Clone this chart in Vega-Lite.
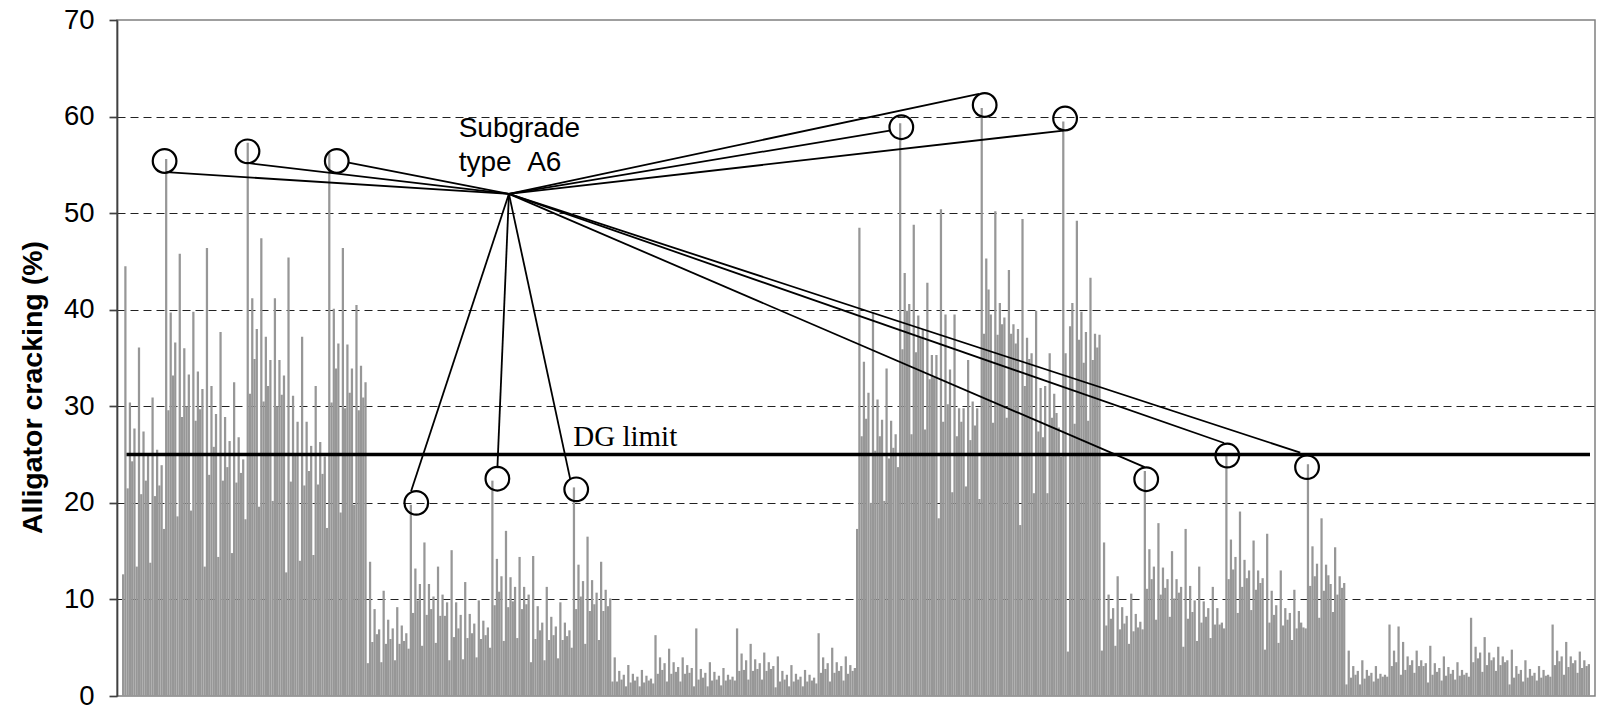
{
"$schema": "https://vega.github.io/schema/vega-lite/v6.json",
"width": 1478, "height": 676,
"autosize": {"type": "none"},
"padding": {"left": 117, "top": 20, "right": 5, "bottom": 11},
"background": "white",
"config": {"view": {"stroke": "#808080", "strokeWidth": 1.5}, "font": "Liberation Sans"},
"datasets": {
"bars": [
{"i":1,"v":12.6},{"i":2,"v":44.5},{"i":3,"v":21.5},{"i":4,"v":30.4},{"i":5,"v":24.3},{"i":6,"v":27.7},
{"i":7,"v":13.4},{"i":8,"v":36.1},{"i":9,"v":20.9},{"i":10,"v":27.4},{"i":11,"v":22.3},{"i":12,"v":25.0},
{"i":13,"v":13.8},{"i":14,"v":30.9},{"i":15,"v":20.7},{"i":16,"v":25.5},{"i":17,"v":21.8},{"i":18,"v":23.9},
{"i":19,"v":17.3},{"i":20,"v":55.6},{"i":21,"v":29.6},{"i":22,"v":39.7},{"i":23,"v":33.2},{"i":24,"v":36.6},
{"i":25,"v":18.6},{"i":26,"v":45.8},{"i":27,"v":28.9},{"i":28,"v":36.0},{"i":29,"v":30.0},{"i":30,"v":33.3},
{"i":31,"v":19.2},{"i":32,"v":39.8},{"i":33,"v":28.5},{"i":34,"v":33.6},{"i":35,"v":29.7},{"i":36,"v":31.8},
{"i":37,"v":13.4},{"i":38,"v":46.4},{"i":39,"v":22.9},{"i":40,"v":32.1},{"i":41,"v":25.8},{"i":42,"v":29.2},
{"i":43,"v":14.4},{"i":44,"v":37.7},{"i":45,"v":22.3},{"i":46,"v":28.9},{"i":47,"v":23.7},{"i":48,"v":26.4},
{"i":49,"v":14.8},{"i":50,"v":32.5},{"i":51,"v":22.1},{"i":52,"v":26.8},{"i":53,"v":23.1},{"i":54,"v":24.5},
{"i":55,"v":18.3},{"i":56,"v":57.3},{"i":57,"v":31.3},{"i":58,"v":41.2},{"i":59,"v":34.9},{"i":60,"v":38.0},
{"i":61,"v":19.6},{"i":62,"v":47.4},{"i":63,"v":30.5},{"i":64,"v":37.2},{"i":65,"v":32.1},{"i":66,"v":34.8},
{"i":67,"v":20.2},{"i":68,"v":41.2},{"i":69,"v":30.0},{"i":70,"v":34.8},{"i":71,"v":31.2},{"i":72,"v":33.2},
{"i":73,"v":12.8},{"i":74,"v":45.4},{"i":75,"v":22.2},{"i":76,"v":31.1},{"i":77,"v":25.0},{"i":78,"v":28.4},
{"i":79,"v":14.0},{"i":80,"v":37.2},{"i":81,"v":21.8},{"i":82,"v":28.4},{"i":83,"v":23.3},{"i":84,"v":25.9},
{"i":85,"v":14.6},{"i":86,"v":32.1},{"i":87,"v":21.9},{"i":88,"v":26.3},{"i":89,"v":23.0},{"i":90,"v":24.8},
{"i":91,"v":17.4},{"i":92,"v":56.2},{"i":93,"v":30.4},{"i":94,"v":40.1},{"i":95,"v":33.9},{"i":96,"v":36.5},
{"i":97,"v":19.0},{"i":98,"v":46.4},{"i":99,"v":29.8},{"i":100,"v":36.4},{"i":101,"v":31.4},{"i":102,"v":33.9},
{"i":103,"v":19.8},{"i":104,"v":40.5},{"i":105,"v":29.6},{"i":106,"v":34.2},{"i":107,"v":30.9},{"i":108,"v":32.5},
{"i":109,"v":3.4},{"i":110,"v":13.9},{"i":111,"v":5.6},{"i":112,"v":9.0},{"i":113,"v":6.4},{"i":114,"v":6.9},
{"i":115,"v":3.5},{"i":116,"v":10.9},{"i":117,"v":5.4},{"i":118,"v":7.9},{"i":119,"v":5.9},{"i":120,"v":7.0},
{"i":121,"v":3.7},{"i":122,"v":9.2},{"i":123,"v":5.4},{"i":124,"v":7.3},{"i":125,"v":5.7},{"i":126,"v":6.5},
{"i":127,"v":4.9},{"i":128,"v":19.8},{"i":129,"v":8.6},{"i":130,"v":13.2},{"i":131,"v":9.9},{"i":132,"v":11.6},
{"i":133,"v":5.2},{"i":134,"v":15.9},{"i":135,"v":8.4},{"i":136,"v":11.6},{"i":137,"v":9.0},{"i":138,"v":10.3},
{"i":139,"v":5.5},{"i":140,"v":13.4},{"i":141,"v":8.3},{"i":142,"v":10.5},{"i":143,"v":8.3},{"i":144,"v":9.7},
{"i":145,"v":3.7},{"i":146,"v":15.1},{"i":147,"v":6.1},{"i":148,"v":9.7},{"i":149,"v":7.0},{"i":150,"v":8.4},
{"i":151,"v":3.8},{"i":152,"v":11.8},{"i":153,"v":6.0},{"i":154,"v":8.5},{"i":155,"v":6.5},{"i":156,"v":7.5},
{"i":157,"v":4.0},{"i":158,"v":9.9},{"i":159,"v":5.9},{"i":160,"v":7.8},{"i":161,"v":6.3},{"i":162,"v":7.1},
{"i":163,"v":5.0},{"i":164,"v":22.3},{"i":165,"v":9.4},{"i":166,"v":14.2},{"i":167,"v":10.8},{"i":168,"v":12.4},
{"i":169,"v":5.7},{"i":170,"v":17.1},{"i":171,"v":9.2},{"i":172,"v":12.3},{"i":173,"v":9.8},{"i":174,"v":11.3},
{"i":175,"v":6.0},{"i":176,"v":14.4},{"i":177,"v":9.0},{"i":178,"v":11.3},{"i":179,"v":9.5},{"i":180,"v":10.5},
{"i":181,"v":3.5},{"i":182,"v":14.5},{"i":183,"v":5.9},{"i":184,"v":9.3},{"i":185,"v":6.8},{"i":186,"v":7.6},
{"i":187,"v":3.7},{"i":188,"v":11.3},{"i":189,"v":5.8},{"i":190,"v":8.2},{"i":191,"v":6.3},{"i":192,"v":7.2},
{"i":193,"v":3.9},{"i":194,"v":9.7},{"i":195,"v":5.8},{"i":196,"v":7.6},{"i":197,"v":6.2},{"i":198,"v":6.8},
{"i":199,"v":5.0},{"i":200,"v":21.6},{"i":201,"v":9.0},{"i":202,"v":13.6},{"i":203,"v":10.3},{"i":204,"v":11.9},
{"i":205,"v":5.4},{"i":206,"v":16.5},{"i":207,"v":8.8},{"i":208,"v":12.0},{"i":209,"v":9.5},{"i":210,"v":10.7},
{"i":211,"v":5.8},{"i":212,"v":13.9},{"i":213,"v":8.8},{"i":214,"v":11.0},{"i":215,"v":9.3},{"i":216,"v":10.1},
{"i":217,"v":1.5},{"i":218,"v":4.0},{"i":219,"v":1.5},{"i":220,"v":2.6},{"i":221,"v":1.7},{"i":222,"v":2.2},
{"i":223,"v":1.0},{"i":224,"v":3.2},{"i":225,"v":1.4},{"i":226,"v":2.3},{"i":227,"v":1.6},{"i":228,"v":2.0},
{"i":229,"v":1.0},{"i":230,"v":2.7},{"i":231,"v":1.4},{"i":232,"v":2.1},{"i":233,"v":1.6},{"i":234,"v":1.8},
{"i":235,"v":1.3},{"i":236,"v":6.3},{"i":237,"v":2.3},{"i":238,"v":4.0},{"i":239,"v":2.7},{"i":240,"v":3.4},
{"i":241,"v":1.5},{"i":242,"v":4.9},{"i":243,"v":2.3},{"i":244,"v":3.5},{"i":245,"v":2.5},{"i":246,"v":3.0},
{"i":247,"v":1.5},{"i":248,"v":4.0},{"i":249,"v":2.3},{"i":250,"v":3.2},{"i":251,"v":2.4},{"i":252,"v":2.9},
{"i":253,"v":1.0},{"i":254,"v":7.0},{"i":255,"v":1.7},{"i":256,"v":2.8},{"i":257,"v":1.9},{"i":258,"v":2.4},
{"i":259,"v":1.0},{"i":260,"v":3.5},{"i":261,"v":1.6},{"i":262,"v":2.5},{"i":263,"v":1.7},{"i":264,"v":2.1},
{"i":265,"v":1.1},{"i":266,"v":2.9},{"i":267,"v":1.6},{"i":268,"v":2.2},{"i":269,"v":1.7},{"i":270,"v":2.0},
{"i":271,"v":1.6},{"i":272,"v":7.0},{"i":273,"v":2.6},{"i":274,"v":4.4},{"i":275,"v":2.7},{"i":276,"v":3.7},
{"i":277,"v":1.7},{"i":278,"v":5.4},{"i":279,"v":2.6},{"i":280,"v":3.8},{"i":281,"v":2.8},{"i":282,"v":3.4},
{"i":283,"v":1.7},{"i":284,"v":4.5},{"i":285,"v":2.6},{"i":286,"v":3.5},{"i":287,"v":2.8},{"i":288,"v":3.1},
{"i":289,"v":0.9},{"i":290,"v":4.1},{"i":291,"v":1.5},{"i":292,"v":2.6},{"i":293,"v":1.7},{"i":294,"v":2.2},
{"i":295,"v":1.0},{"i":296,"v":3.2},{"i":297,"v":1.5},{"i":298,"v":2.3},{"i":299,"v":1.7},{"i":300,"v":2.0},
{"i":301,"v":1.0},{"i":302,"v":2.7},{"i":303,"v":1.5},{"i":304,"v":2.2},{"i":305,"v":1.6},{"i":306,"v":1.9},
{"i":307,"v":1.3},{"i":308,"v":6.5},{"i":309,"v":2.4},{"i":310,"v":4.0},{"i":311,"v":2.8},{"i":312,"v":3.4},
{"i":313,"v":1.5},{"i":314,"v":5.0},{"i":315,"v":2.4},{"i":316,"v":3.5},{"i":317,"v":2.6},{"i":318,"v":3.1},
{"i":319,"v":1.6},{"i":320,"v":4.1},{"i":321,"v":2.3},{"i":322,"v":3.2},{"i":323,"v":2.6},{"i":324,"v":2.9},
{"i":325,"v":17.3},{"i":326,"v":48.5},{"i":327,"v":26.9},{"i":328,"v":34.6},{"i":329,"v":28.7},{"i":330,"v":31.4},
{"i":331,"v":20.0},{"i":332,"v":39.7},{"i":333,"v":25.4},{"i":334,"v":30.7},{"i":335,"v":26.9},{"i":336,"v":28.6},
{"i":337,"v":20.2},{"i":338,"v":33.9},{"i":339,"v":24.6},{"i":340,"v":28.5},{"i":341,"v":25.7},{"i":342,"v":27.1},
{"i":343,"v":23.7},{"i":344,"v":59.3},{"i":345,"v":35.9},{"i":346,"v":43.8},{"i":347,"v":39.9},{"i":348,"v":40.6},
{"i":349,"v":27.1},{"i":350,"v":48.8},{"i":351,"v":35.6},{"i":352,"v":39.4},{"i":353,"v":37.1},{"i":354,"v":38.0},
{"i":355,"v":27.6},{"i":356,"v":42.8},{"i":357,"v":32.8},{"i":358,"v":35.3},{"i":359,"v":33.0},{"i":360,"v":35.3},
{"i":361,"v":18.4},{"i":362,"v":50.4},{"i":363,"v":28.4},{"i":364,"v":39.5},{"i":365,"v":30.2},{"i":366,"v":33.8},
{"i":367,"v":21.1},{"i":368,"v":39.5},{"i":369,"v":26.9},{"i":370,"v":29.8},{"i":371,"v":28.4},{"i":372,"v":29.8},
{"i":373,"v":21.7},{"i":374,"v":34.8},{"i":375,"v":26.5},{"i":376,"v":30.5},{"i":377,"v":28.0},{"i":378,"v":29.8},
{"i":379,"v":20.4},{"i":380,"v":60.9},{"i":381,"v":37.5},{"i":382,"v":45.3},{"i":383,"v":42.1},{"i":384,"v":39.5},
{"i":385,"v":28.3},{"i":386,"v":50.2},{"i":387,"v":37.4},{"i":388,"v":40.7},{"i":389,"v":38.5},{"i":390,"v":39.2},
{"i":391,"v":28.8},{"i":392,"v":44.1},{"i":393,"v":37.5},{"i":394,"v":38.5},{"i":395,"v":36.5},{"i":396,"v":38.0},
{"i":397,"v":17.7},{"i":398,"v":49.4},{"i":399,"v":32.1},{"i":400,"v":37.1},{"i":401,"v":34.9},{"i":402,"v":35.5},
{"i":403,"v":21.0},{"i":404,"v":39.9},{"i":405,"v":27.4},{"i":406,"v":31.9},{"i":407,"v":26.8},{"i":408,"v":32.1},
{"i":409,"v":21.0},{"i":410,"v":35.5},{"i":411,"v":28.8},{"i":412,"v":31.3},{"i":413,"v":29.3},{"i":414,"v":27.8},
{"i":415,"v":24.8},{"i":416,"v":59.5},{"i":417,"v":35.5},{"i":418,"v":4.6},{"i":419,"v":38.3},{"i":420,"v":40.7},
{"i":421,"v":28.2},{"i":422,"v":49.2},{"i":423,"v":36.9},{"i":424,"v":39.8},{"i":425,"v":34.5},{"i":426,"v":37.7},
{"i":427,"v":28.5},{"i":428,"v":43.3},{"i":429,"v":34.8},{"i":430,"v":37.5},{"i":431,"v":36.1},{"i":432,"v":37.4},
{"i":433,"v":4.7},{"i":434,"v":15.9},{"i":435,"v":7.3},{"i":436,"v":10.5},{"i":437,"v":8.0},{"i":438,"v":9.1},
{"i":439,"v":5.2},{"i":440,"v":12.4},{"i":441,"v":6.9},{"i":442,"v":9.2},{"i":443,"v":7.5},{"i":444,"v":8.3},
{"i":445,"v":5.4},{"i":446,"v":10.6},{"i":447,"v":6.7},{"i":448,"v":8.5},{"i":449,"v":7.1},{"i":450,"v":7.7},
{"i":451,"v":6.9},{"i":452,"v":23.3},{"i":453,"v":11.1},{"i":454,"v":15.2},{"i":455,"v":12.1},{"i":456,"v":13.4},
{"i":457,"v":7.9},{"i":458,"v":17.9},{"i":459,"v":10.5},{"i":460,"v":13.3},{"i":461,"v":11.2},{"i":462,"v":12.1},
{"i":463,"v":8.2},{"i":464,"v":15.0},{"i":465,"v":10.1},{"i":466,"v":12.1},{"i":467,"v":10.7},{"i":468,"v":11.3},
{"i":469,"v":5.1},{"i":470,"v":17.3},{"i":471,"v":8.0},{"i":472,"v":11.4},{"i":473,"v":8.7},{"i":474,"v":9.9},
{"i":475,"v":5.7},{"i":476,"v":13.4},{"i":477,"v":7.6},{"i":478,"v":9.8},{"i":479,"v":8.2},{"i":480,"v":9.1},
{"i":481,"v":6.0},{"i":482,"v":11.3},{"i":483,"v":7.4},{"i":484,"v":9.1},{"i":485,"v":7.4},{"i":486,"v":7.6},
{"i":487,"v":7.0},{"i":488,"v":24.9},{"i":489,"v":12.1},{"i":490,"v":16.2},{"i":491,"v":13.1},{"i":492,"v":14.4},
{"i":493,"v":8.6},{"i":494,"v":19.1},{"i":495,"v":11.3},{"i":496,"v":14.1},{"i":497,"v":12.2},{"i":498,"v":13.0},
{"i":499,"v":8.9},{"i":500,"v":16.1},{"i":501,"v":11.0},{"i":502,"v":13.0},{"i":503,"v":11.7},{"i":504,"v":12.2},
{"i":505,"v":4.8},{"i":506,"v":16.8},{"i":507,"v":7.6},{"i":508,"v":10.9},{"i":509,"v":8.4},{"i":510,"v":9.4},
{"i":511,"v":5.5},{"i":512,"v":13.0},{"i":513,"v":7.3},{"i":514,"v":9.1},{"i":515,"v":7.9},{"i":516,"v":8.6},
{"i":517,"v":5.8},{"i":518,"v":11.0},{"i":519,"v":7.0},{"i":520,"v":8.8},{"i":521,"v":7.6},{"i":522,"v":7.1},
{"i":523,"v":7.0},{"i":524,"v":24.0},{"i":525,"v":11.4},{"i":526,"v":15.5},{"i":527,"v":12.4},{"i":528,"v":13.7},
{"i":529,"v":8.1},{"i":530,"v":18.4},{"i":531,"v":10.9},{"i":532,"v":13.6},{"i":533,"v":12.5},{"i":534,"v":11.6},
{"i":535,"v":8.7},{"i":536,"v":15.4},{"i":537,"v":10.5},{"i":538,"v":12.4},{"i":539,"v":11.2},{"i":540,"v":11.7},
{"i":541,"v":1.2},{"i":542,"v":4.7},{"i":543,"v":1.9},{"i":544,"v":3.1},{"i":545,"v":2.2},{"i":546,"v":2.6},
{"i":547,"v":1.2},{"i":548,"v":3.7},{"i":549,"v":1.8},{"i":550,"v":2.7},{"i":551,"v":2.1},{"i":552,"v":2.4},
{"i":553,"v":1.5},{"i":554,"v":3.1},{"i":555,"v":1.8},{"i":556,"v":2.3},{"i":557,"v":2.0},{"i":558,"v":2.2},
{"i":559,"v":2.0},{"i":560,"v":7.4},{"i":561,"v":3.1},{"i":562,"v":4.7},{"i":563,"v":3.5},{"i":564,"v":7.2},
{"i":565,"v":2.2},{"i":566,"v":5.6},{"i":567,"v":2.7},{"i":568,"v":4.1},{"i":569,"v":3.2},{"i":570,"v":3.7},
{"i":571,"v":2.4},{"i":572,"v":4.7},{"i":573,"v":3.1},{"i":574,"v":3.7},{"i":575,"v":3.1},{"i":576,"v":3.4},
{"i":577,"v":1.4},{"i":578,"v":5.2},{"i":579,"v":2.2},{"i":580,"v":3.4},{"i":581,"v":2.5},{"i":582,"v":2.9},
{"i":583,"v":1.6},{"i":584,"v":4.1},{"i":585,"v":2.1},{"i":586,"v":3.0},{"i":587,"v":2.3},{"i":588,"v":2.7},
{"i":589,"v":1.7},{"i":590,"v":3.5},{"i":591,"v":2.1},{"i":592,"v":2.7},{"i":593,"v":2.2},{"i":594,"v":2.4},
{"i":595,"v":2.0},{"i":596,"v":8.1},{"i":597,"v":3.5},{"i":598,"v":5.1},{"i":599,"v":3.9},{"i":600,"v":4.5},
{"i":601,"v":2.5},{"i":602,"v":6.1},{"i":603,"v":3.2},{"i":604,"v":4.5},{"i":605,"v":3.7},{"i":606,"v":4.0},
{"i":607,"v":2.6},{"i":608,"v":5.1},{"i":609,"v":3.2},{"i":610,"v":4.1},{"i":611,"v":3.5},{"i":612,"v":3.7},
{"i":613,"v":1.2},{"i":614,"v":4.8},{"i":615,"v":1.9},{"i":616,"v":3.1},{"i":617,"v":2.3},{"i":618,"v":2.7},
{"i":619,"v":1.5},{"i":620,"v":3.7},{"i":621,"v":1.9},{"i":622,"v":2.8},{"i":623,"v":2.1},{"i":624,"v":2.4},
{"i":625,"v":1.6},{"i":626,"v":3.1},{"i":627,"v":1.9},{"i":628,"v":2.7},{"i":629,"v":2.1},{"i":630,"v":2.2},
{"i":631,"v":2.0},{"i":632,"v":7.4},{"i":633,"v":3.2},{"i":634,"v":4.7},{"i":635,"v":3.6},{"i":636,"v":4.1},
{"i":637,"v":2.2},{"i":638,"v":5.6},{"i":639,"v":3.0},{"i":640,"v":4.1},{"i":641,"v":3.4},{"i":642,"v":3.7},
{"i":643,"v":2.4},{"i":644,"v":4.6},{"i":645,"v":2.9},{"i":646,"v":3.7},{"i":647,"v":3.1},{"i":648,"v":3.3}
],
"circles": [
{"i":19.3,"v":55.4},{"i":55.9,"v":56.4},{"i":95.3,"v":55.4},
{"i":130.4,"v":20.0},{"i":166.2,"v":22.5},{"i":201.0,"v":21.4},
{"i":344.5,"v":58.9},{"i":381.3,"v":61.2},{"i":416.8,"v":59.8},
{"i":452.6,"v":22.45},{"i":488.4,"v":24.9},{"i":523.6,"v":23.7}
],
"leaders": [
{"i":171.3,"v":52.0,"i2":20.1,"v2":54.24},
{"i":171.3,"v":52.0,"i2":56.6,"v2":55.17},
{"i":171.3,"v":52.0,"i2":100.5,"v2":55.24},
{"i":171.3,"v":52.0,"i2":128.1,"v2":21.2},
{"i":171.3,"v":52.0,"i2":166.2,"v2":23.6},
{"i":171.3,"v":52.0,"i2":198.4,"v2":22.4},
{"i":171.3,"v":52.0,"i2":339.4,"v2":58.55},
{"i":171.3,"v":52.0,"i2":378.8,"v2":62.35},
{"i":171.3,"v":52.0,"i2":416.1,"v2":58.55},
{"i":171.3,"v":52.0,"i2":451.9,"v2":23.7},
{"i":171.3,"v":52.0,"i2":487.0,"v2":26.2},
{"i":171.3,"v":52.0,"i2":520.6,"v2":25.2}
],
"limit": [{"i":2.5,"i2":648.5,"v":25}],
"labels": [
{"t":"Subgrade","i":149.1,"v":57.93},
{"t":"type\u00a0\u00a0A6","i":149.1,"v":54.34}
],
"dg": [{"t":"DG limit","i":199.7,"v":25.86}]
},
"encoding": {
 "x": {"field": "i", "type": "quantitative", "scale": {"domain": [0.5, 648.5], "nice": false, "zero": false}, "axis": null},
 "y": {"field": "v", "type": "quantitative", "scale": {"domain": [0, 70], "nice": false},
  "axis": {"values": [0,10,20,30,40,50,60,70], "title": "Alligator cracking (%)",
   "titleFontSize": 28.5, "titleFontWeight": "bold", "titleFont": "Liberation Sans", "titleColor": "black",
   "titleAngle": 270, "titleX": -76, "titleY": 367, "titleBaseline": "alphabetic", "titleAlign": "center", "titlePadding": 0,
   "labelFontSize": 27.5, "labelFont": "Liberation Sans", "labelColor": "black", "labelPadding": 15,
   "tickSize": 8, "tickColor": "#404040", "tickWidth": 1.7,
   "domainColor": "#404040", "domainWidth": 1.7,
   "grid": true, "gridColor": "#222222", "gridDash": [8, 5], "gridWidth": 1,
   "gridOpacity": {"condition": {"test": "datum.value === 0 || datum.value === 70", "value": 0}, "value": 1}}}
},
"layer": [
{"data": {"name": "bars"},
 "mark": {"type": "bar", "size": 2.25, "color": "#979797"}},
{"data": {"name": "limit"},
 "mark": {"type": "rule", "color": "black", "strokeWidth": 3.5},
 "encoding": {"x2": {"field": "i2"}}},
{"data": {"name": "leaders"},
 "mark": {"type": "rule", "color": "black", "strokeWidth": 1.8},
 "encoding": {"x2": {"field": "i2"}, "y2": {"field": "v2"}}},
{"data": {"name": "circles"},
 "mark": {"type": "point", "shape": "circle", "filled": false, "stroke": "black", "strokeWidth": 2.2, "size": 560, "opacity": 1}},
{"data": {"name": "labels"},
 "mark": {"type": "text", "align": "left", "baseline": "alphabetic", "fontSize": 28, "font": "Liberation Sans", "color": "black"},
 "encoding": {"text": {"field": "t"}}},
{"data": {"name": "dg"},
 "mark": {"type": "text", "align": "left", "baseline": "alphabetic", "fontSize": 29, "font": "Liberation Serif", "color": "black"},
 "encoding": {"text": {"field": "t"}}}
]
}
